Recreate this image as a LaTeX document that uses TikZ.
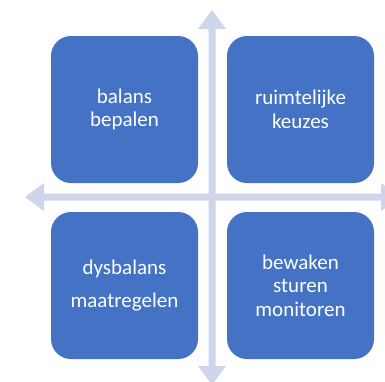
\documentclass[tikz,border=0pt]{standalone}
\usepackage{fontspec}
\setmainfont{Carlito}
\definecolor{vlak}{HTML}{4472C4}
\definecolor{pijl}{HTML}{CFD5EA}
\tikzset{
  vak/.style={fill=vlak,rounded corners=20pt,minimum width=147pt,minimum height=147pt,
    text=white,align=center,font=\fontsize{21}{23.5}\selectfont,inner sep=0pt}
}
\begin{document}
\begin{tikzpicture}[x=1pt,y=-1pt]
\clip (0,0) rectangle (385,381);
\fill[white] (0,0) rectangle (385,381);
% assen
\fill[pijl] (208.5,29) -- (198,29) -- (212,10) -- (226,29) -- (215.5,29) -- (215.5,366) -- (226,366) -- (212,385) -- (198,366) -- (208.5,366) -- cycle;
\fill[pijl] (44,193.5) -- (44,183) -- (25,197) -- (44,211) -- (44,200.5) -- (381,200.5) -- (381,211) -- (400,197) -- (381,183) -- (381,193.5) -- cycle;
% vakken
\node[vak] (bal) at (124.5,109.5) {balans\\bepalen};
\node[vak] (ruim) at (300.5,109.5) {ruimtelijke\\keuzes};
\node[vak] (dys) at (124.5,285.5) {dysbalans\\[9pt]maatregelen};
\node[vak] (bew) at (300.5,285.5) {bewaken\\sturen\\monitoren};
\end{tikzpicture}
\end{document}
